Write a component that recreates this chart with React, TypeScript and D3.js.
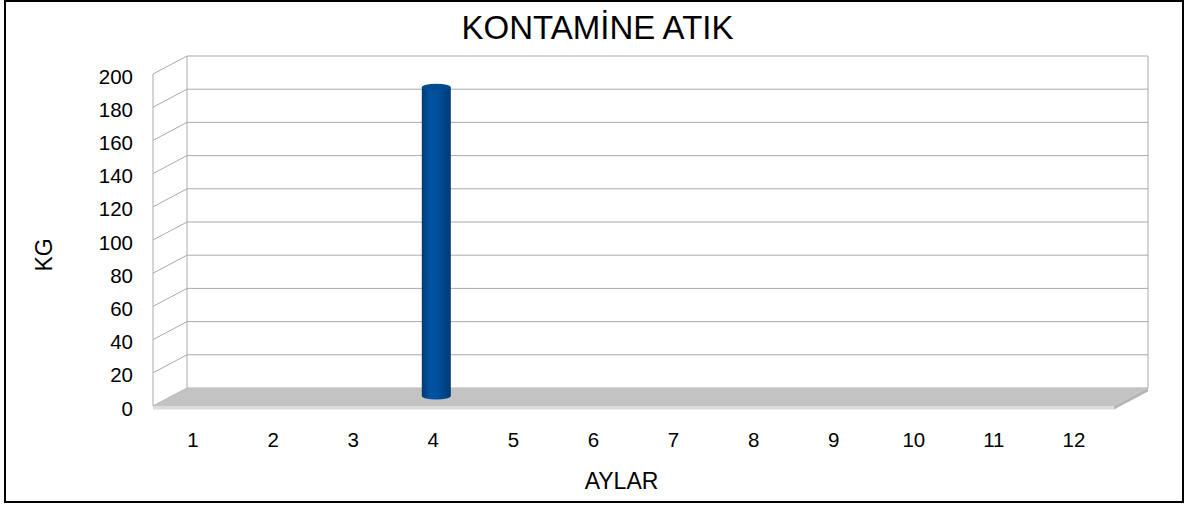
import React from "react";
import * as d3 from "d3";

const months = ["1", "2", "3", "4", "5", "6", "7", "8", "9", "10", "11", "12"];
const values = [0, 0, 0, 186, 0, 0, 0, 0, 0, 0, 0, 0];
const yTicks = [0, 20, 40, 60, 80, 100, 120, 140, 160, 180, 200];
const title = "KONTAMİNE ATIK";
const yTitle = "KG";
const xTitle = "AYLAR";

const W = 1189;
const H = 509;
const FONT = "'Liberation Sans', Arial, sans-serif";

export default function App() {
  const frontLeft = 153;
  const frontRight = 1114;
  const dx = 34;
  const dy = 18;
  const backLeft = frontLeft + dx;
  const backRight = frontRight + dx;

  const yBack = d3.scaleLinear().domain([0, 200]).range([388, 56]);
  const yFront = (v: number) => yBack(v) + dy;
  const yBar = (v: number) => yBack(v) + 8;

  const x = d3.scaleBand<string>().domain(months).range([frontLeft, frontRight]).padding(0);

  const grid = "#aaaaaa";
  const r = 14.5;
  const ry = 3.5;

  return (
    <svg width={W} height={H} style={{ position: "absolute", left: 0, top: 0 }} fontFamily={FONT}>
      <defs>
        <linearGradient id="cyl" x1="0" x2="1" y1="0" y2="0">
          <stop offset="0%" stopColor="#003a74" />
          <stop offset="30%" stopColor="#0053a2" />
          <stop offset="55%" stopColor="#00509c" />
          <stop offset="100%" stopColor="#003a74" />
        </linearGradient>
      </defs>
      <rect x={0} y={0} width={W} height={H} fill="#ffffff" />
      <rect x={5} y={1} width={1178} height={501} fill="none" stroke="#000" strokeWidth={2} />

      {yTicks.map((t) => (
        <line key={"g" + t} x1={backLeft} x2={backRight} y1={yBack(t)} y2={yBack(t)} stroke={grid} strokeWidth={1} />
      ))}
      {yTicks.map((t) => (
        <line key={"s" + t} x1={frontLeft} x2={backLeft} y1={yFront(t)} y2={yBack(t)} stroke={grid} strokeWidth={1} />
      ))}
      <line x1={backLeft} x2={backLeft} y1={yBack(200)} y2={yBack(0)} stroke={grid} />
      <line x1={backRight} x2={backRight} y1={yBack(200)} y2={yBack(0)} stroke={grid} />
      <line x1={frontLeft} x2={frontLeft} y1={yFront(200)} y2={yFront(0)} stroke={grid} />

      <polygon
        points={`${backLeft},${yBack(0)} ${backRight},${yBack(0)} ${frontRight},${yFront(0)} ${frontLeft},${yFront(0)}`}
        fill="#c3c3c3"
      />
      <rect x={frontLeft} y={yFront(0)} width={frontRight - frontLeft} height={3.5} fill="#dcdcdc" />
      <polygon
        points={`${frontRight},${yFront(0)} ${backRight},${yBack(0)} ${backRight},${yBack(0) + 3.5} ${frontRight},${yFront(0) + 3.5}`}
        fill="#b5b5b5"
      />

      {values.map((v, i) => {
        if (v <= 0) return null;
        const cx = (x(months[i]) as number) + x.bandwidth() / 2 + 3;
        const yt = yBar(v);
        const yb = yBar(0);
        const d = `M${cx - r},${yt} L${cx - r},${yb} A${r},${ry} 0 0 0 ${cx + r},${yb} L${cx + r},${yt} Z`;
        return (
          <g key={"b" + i}>
            <path d={d} fill="url(#cyl)" />
            <ellipse cx={cx} cy={yt} rx={r} ry={ry} fill="#004a92" />
          </g>
        );
      })}

      {yTicks.map((t) => (
        <text key={"yl" + t} x={133} y={yFront(t) + 2} textAnchor="end" dominantBaseline="central" fontSize={20.5} fill="#000">
          {t}
        </text>
      ))}
      {months.map((m) => (
        <text key={"xl" + m} x={(x(m) as number) + x.bandwidth() / 2} y={447} textAnchor="middle" fontSize={20.5} fill="#000">
          {m}
        </text>
      ))}

      <text x={597.5} y={39} textAnchor="middle" fontSize={33} fill="#000">
        {title}
      </text>
      <text transform="translate(44,255) rotate(-90)" textAnchor="middle" dominantBaseline="central" fontSize={23} fill="#000">
        {yTitle}
      </text>
      <text x={621.5} y={489} textAnchor="middle" fontSize={23} fill="#000">
        {xTitle}
      </text>
    </svg>
  );
}
